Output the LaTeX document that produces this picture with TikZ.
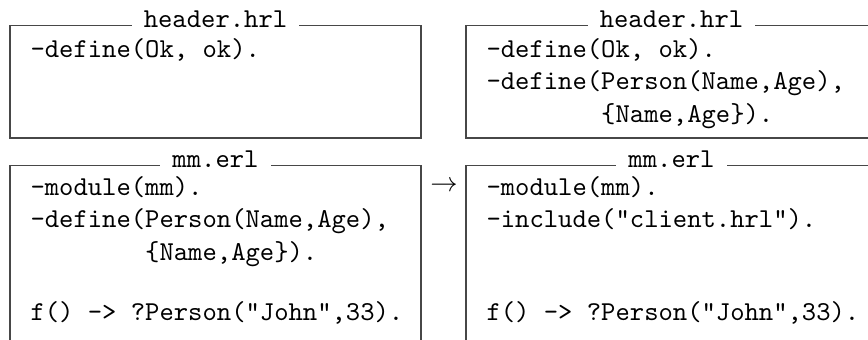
\documentclass[tikz,border=0pt]{standalone}
\begin{document}
\tikzset{
  frame/.style={draw=black!72, line width=0.45pt},
  boxtitle/.style={fill=white, inner xsep=4.5pt, inner ysep=1pt, anchor=base, font=\ttfamily},
  code/.style={inner sep=0pt, anchor=base west, font=\ttfamily},
}
\begin{tikzpicture}[x=0.3662pt,y=-0.3662pt]
  \clip (0,0) rectangle (868,339);

  % header files (top row)
  \draw[frame] (10,25.5) rectangle (421,138);
  \draw[frame] (466,25.5) rectangle (877,138);
  \node[boxtitle] (hA) at (215.5,27.5) {header.hrl};
  \node[boxtitle] (hB) at (671.5,27.5) {header.hrl};

  % module files (bottom row, running past the lower edge)
  \draw[frame] (10,345) -- (10,165.5) -- (421,165.5) -- (421,345);
  \draw[frame] (466,345) -- (466,165.5) -- (877,165.5) -- (877,345);
  \node[boxtitle] (mA) at (215.5,167) {mm.erl};
  \node[boxtitle] (mB) at (671.5,167) {mm.erl};

  % contents before
  \node[code] (a1) at (30,57) {-define(Ok, ok).};
  \node[code] (b1) at (30,195) {-module(mm).};
  \node[code] (b2) at (30,227.5) {-define(Person(Name,Age),};
  \node[code] (b3) at (30,260) {\phantom{-define(}\{Name,Age\}).};
  \node[code] (b4) at (30,320) {f() -> ?Person("John",33).};

  % contents after
  \node[code] (c1) at (486,57) {-define(Ok, ok).};
  \node[code] (c2) at (486,89.5) {-define(Person(Name,Age),};
  \node[code] (c3) at (486,122) {\phantom{-define(}\{Name,Age\}).};
  \node[code] (d1) at (486,195) {-module(mm).};
  \node[code] (d2) at (486,227.5) {-include("client.hrl").};
  \node[code] (d4) at (486,320) {f() -> ?Person("John",33).};

  % transformation mark
  \node[inner sep=0pt, anchor=base] (arr) at (444,191) {$\rightarrow$};
\end{tikzpicture}
\end{document}
